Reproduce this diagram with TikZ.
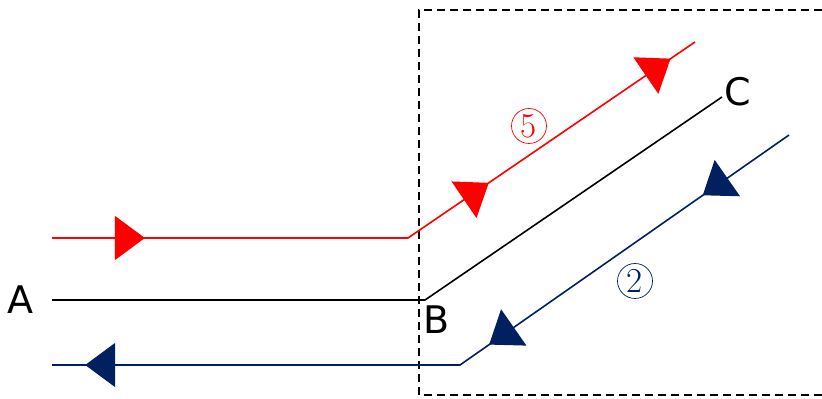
\documentclass[tikz,border=0pt]{standalone}
\usepackage{fontspec}
\newfontfamily\pointfont{DejaVu Sans}
\usetikzlibrary{arrows.meta, decorations.markings}
\definecolor{navy}{HTML}{002060}
\tikzset{
  % Lines
  wire/.style={line width=0.8pt},
  redwire/.style={wire, red},
  bluewire/.style={wire, navy},
  % Labels
  pointlabel/.style={font=\pointfont\fontsize{19}{23}\selectfont, inner sep=0pt},
  numlabel/.style={
    draw, circle, line width=0.35pt,
    minimum size=17.5pt, inner sep=0pt,
    font=\fontsize{17.5}{20}\selectfont
  },
  % Boundary
  boundary/.style={dash pattern=on 4pt off 2.5pt, line width=0.75pt},
}
\newcommand{\flowtip}{\arrow{Triangle[length=15pt,width=22pt]}}

\begin{document}
\begin{tikzpicture}[x=0.5pt, y=-0.5pt]
  \useasboundingbox (0,0) rectangle (822,399);

  %% ── Points ──
  \coordinate (redA)  at (52,238);
  \coordinate (redB)  at (408,238);
  \coordinate (redC)  at (695,42);
  \coordinate (lineA) at (52,300);
  \coordinate (lineB) at (425,300);
  \coordinate (lineC) at (722,97);
  \coordinate (blueC) at (789,135);
  \coordinate (blueB) at (460,365);
  \coordinate (blueA) at (52,365);

  %% ── Boundary ──
  \coordinate (boxTR) at (822,10);
  \coordinate (boxTL) at (419,10);
  \coordinate (boxBL) at (419,395);
  \coordinate (boxBR) at (822,395);
  \draw[boundary] (boxTR) -- (boxTL) -- (boxBL) -- (boxBR);

  %% ── Labels ──
  \node[pointlabel] (A) at (20,300) {A};
  \node[pointlabel] (B) at (437,320) {B};
  \node[pointlabel] (C) at (738,92) {C};
  \node[numlabel, red]  (five) at (529,126) {5};
  \node[numlabel, navy] (two)  at (635,281) {2};

  %% ── Lines ──
  \draw[wire] (lineA) -- (lineB) -- (lineC);

  \draw[redwire, postaction={decorate}, decoration={markings,
      mark=at position 0.132 with {\flowtip},
      mark=at position 0.645 with {\flowtip},
      mark=at position 0.958 with {\flowtip}}]
    (redA) -- (redB) -- (redC);

  \draw[bluewire, postaction={decorate}, decoration={markings,
      mark=at position 0.130 with {\flowtip},
      mark=at position 0.452 with {\flowtip},
      mark=at position 0.959 with {\flowtip}}]
    (blueC) -- (blueB) -- (blueA);

\end{tikzpicture}
\end{document}
